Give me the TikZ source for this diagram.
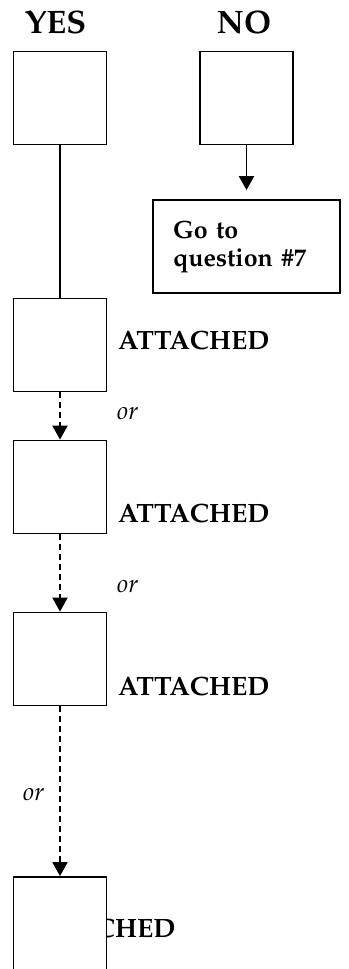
\documentclass[tikz,border=0pt]{standalone}
\usepackage[T1]{fontenc}
\usepackage{mathpazo}
\usetikzlibrary{arrows.meta}
\tikzset{
  qbox/.style={draw=black, line width=1.8pt, fill=white, rectangle, inner sep=0pt, minimum width=93pt, minimum height=93pt},
  gobox/.style={draw=black, line width=1.8pt, fill=white, rectangle, inner sep=0pt, minimum width=187pt, minimum height=93pt, text width=147pt, align=left, font=\fontsize{25}{28}\selectfont\bfseries},
  head/.style={inner sep=0pt, anchor=base, font=\fontsize{32.5}{38}\selectfont\bfseries},
  attlabel/.style={inner sep=0pt, anchor=base west, font=\fontsize{26.5}{30}\selectfont\bfseries},
  orlabel/.style={inner sep=0pt, anchor=base west, font=\fontsize{25}{28}\selectfont\itshape},
  conn/.style={line width=1.9pt, draw=black},
  arr/.style={conn, -{Triangle[width=15pt,length=14pt]}},
  darr/.style={arr, dash pattern=on 6pt off 4pt}
}
\begin{document}
\begin{tikzpicture}[x=1pt, y=-1pt]
\useasboundingbox (0,0) rectangle (348,969);
\node[head] (yes) at (55.5,33) {YES};
\node[head] (no) at (244,33) {NO};
\node[qbox] (y1) at (60,98) {};
\node[qbox] (n1) at (246.5,98) {};
\node[gobox] (goto) at (246.5,246.5) {Go to\\question \#7};
\node[qbox] (y2) at (60,345) {};
\node[qbox] (y3) at (60,487) {};
\node[qbox] (y4) at (60,659) {};
\node[attlabel] (a2) at (118,349) {ATTACHED};
\node[attlabel] (a3) at (118,522) {ATTACHED};
\node[attlabel] (a4) at (118,695) {ATTACHED};
\node[attlabel] (a5) at (24,937) {ATTACHED};
\node[qbox, minimum height=140pt] (y5) at (60,947) {};
\node[orlabel] (or1) at (117,419) {or};
\node[orlabel] (or2) at (117,592) {or};
\node[orlabel] (or3) at (23,800) {or};
\draw[conn] (y1.south) -- (y2.north);
\draw[arr, shorten >=9pt] (n1.south) -- (goto.north);
\draw[darr] (y2.south) -- (y3.north);
\draw[darr] (y3.south) -- (y4.north);
\draw[darr] (y4.south) -- (y5.north);
\end{tikzpicture}
\end{document}
